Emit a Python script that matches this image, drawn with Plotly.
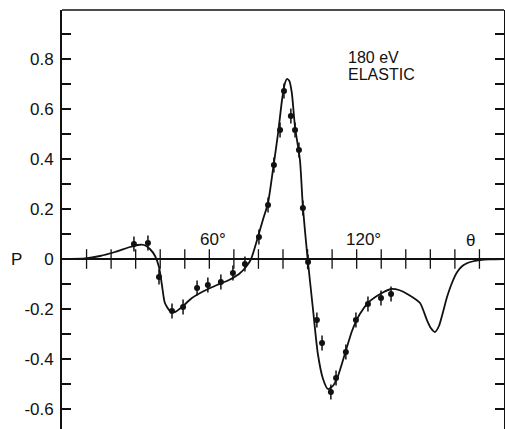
import plotly.graph_objects as go

# Measured polarization data (angle in degrees, P)
theta_data = [29.3, 35.0, 39.5, 44.8, 49.3, 55.0, 59.4, 64.7, 69.6, 74.5,
              80.2, 83.9, 86.3, 88.8, 90.4, 93.2, 94.9, 96.5, 98.1, 100.2,
              103.8, 105.9, 109.5, 111.6, 115.6, 119.7, 124.6, 129.9, 134.0]
p_data = [0.060, 0.064, -0.072, -0.208, -0.192, -0.116, -0.104, -0.092, -0.056, -0.020,
          0.088, 0.216, 0.376, 0.516, 0.672, 0.572, 0.516, 0.436, 0.204, -0.012,
          -0.244, -0.336, -0.532, -0.476, -0.372, -0.244, -0.180, -0.156, -0.140]
p_err = [0.03] * len(p_data)

# Theoretical curve
theta_curve = [0.4, 9.4, 15.5, 21.6, 27.7, 30.9, 33.4, 35.8, 37.9, 39.5,
               40.7, 41.9, 44.0, 46.0, 48.9, 52.9, 57.8, 63.1, 68.0, 72.1,
               74.9, 77.0, 79.8, 81.8, 83.9, 85.9, 88.0, 89.6, 90.6, 91.6,
               92.6, 93.6, 94.9, 96.9, 98.1, 99.8, 102.2, 104.2, 106.3, 108.3,
               110.3, 112.4, 115.2, 118.1, 121.3, 125.0, 130.3, 134.0, 137.2, 141.3,
               145.8, 148.6, 150.2, 151.9, 153.5, 156.8, 158.8, 160.8, 162.8, 164.9,
               167.5, 170.2, 174.3, 180.0]
p_curve = [0.0, 0.002, 0.012, 0.028, 0.048, 0.056, 0.056, 0.040, 0.012, -0.032,
           -0.104, -0.176, -0.208, -0.212, -0.192, -0.156, -0.128, -0.104, -0.084, -0.060,
           -0.032, 0.0, 0.088, 0.156, 0.224, 0.356, 0.504, 0.636, 0.696, 0.720,
           0.712, 0.664, 0.528, 0.396, 0.208, 0.024, -0.200, -0.380, -0.480, -0.520,
           -0.508, -0.468, -0.380, -0.288, -0.220, -0.172, -0.136, -0.120, -0.124, -0.144,
           -0.176, -0.244, -0.276, -0.292, -0.268, -0.152, -0.096, -0.054, -0.030, -0.017,
           -0.009, -0.004, -0.001, 0.0]

y_tickvals = [-0.6, -0.4, -0.2, 0.0, 0.2, 0.4, 0.6, 0.8]
y_ticktext = ["-0.6", "-0.4", "-0.2", "0", "0.2", "0.4", "0.6", "0.8"]
y_minorvals = [-0.7, -0.5, -0.3, -0.1, 0.1, 0.3, 0.5, 0.7, 0.9]
x_axis_ticks = list(range(10, 180, 10))

FONT = "Liberation Sans"
INK = "#111111"

fig = go.Figure()

# ticks crossing the P = 0 axis
fig.add_trace(go.Scatter(
    x=x_axis_ticks, y=[0] * len(x_axis_ticks), mode="markers",
    marker=dict(symbol="line-ns", size=14, line=dict(color=INK, width=1.3)),
    hoverinfo="skip", showlegend=False))

fig.add_trace(go.Scatter(
    x=theta_curve, y=p_curve, mode="lines",
    line=dict(color=INK, width=1.8, shape="spline", smoothing=0.6),
    showlegend=False))

fig.add_trace(go.Scatter(
    x=theta_data, y=p_data, mode="markers",
    marker=dict(color=INK, size=6, symbol="circle"),
    error_y=dict(type="data", array=p_err, visible=True, color=INK, thickness=1.5, width=0),
    showlegend=False))

fig.update_layout(
    width=505, height=429, autosize=False,
    margin=dict(l=62, r=1, t=10, b=0),
    paper_bgcolor="white", plot_bgcolor="white",
    font=dict(family=FONT, color=INK, size=16),
    xaxis=dict(range=[0, 180], showgrid=False, zeroline=False, showline=False,
               showticklabels=False, ticks=""),
    yaxis=dict(range=[-0.68, 0.996], showgrid=False,
               zeroline=True, zerolinecolor=INK, zerolinewidth=1.6,
               showline=True, linecolor=INK, linewidth=1.8, mirror="ticks",
               ticks="inside", ticklen=9, tickwidth=1.5, tickcolor=INK,
               tickvals=y_tickvals, ticktext=y_ticktext, ticklabelstandoff=3,
               tickfont=dict(family=FONT, size=17, color=INK),
               minor=dict(tickvals=y_minorvals, ticks="inside", ticklen=9,
                          tickwidth=1.5, tickcolor=INK)),
    shapes=[dict(type="line", xref="paper", yref="paper", x0=0, x1=1, y0=1, y1=1,
                 line=dict(color=INK, width=1.5))],
    annotations=[
        dict(text="P", x=-0.12, y=0, xref="paper", yref="y", showarrow=False,
             font=dict(size=17, family=FONT, color=INK)),
        dict(text="60°", x=61.5, y=0.08, xref="x", yref="y", showarrow=False,
             font=dict(size=17, family=FONT, color=INK)),
        dict(text="120°", x=122.6, y=0.08, xref="x", yref="y", showarrow=False,
             font=dict(size=17, family=FONT, color=INK)),
        dict(text="θ", x=166.5, y=0.076, xref="x", yref="y", showarrow=False,
             font=dict(size=17, family=FONT, color=INK)),
        dict(text="180 eV", x=115.5, y=0.806, xref="x", yref="y", showarrow=False,
             xanchor="left", font=dict(size=16, family=FONT, color=INK)),
        dict(text="ELASTIC", x=115.5, y=0.738, xref="x", yref="y", showarrow=False,
             xanchor="left", font=dict(size=16, family=FONT, color=INK)),
    ],
)

fig.write_html("out.html")
